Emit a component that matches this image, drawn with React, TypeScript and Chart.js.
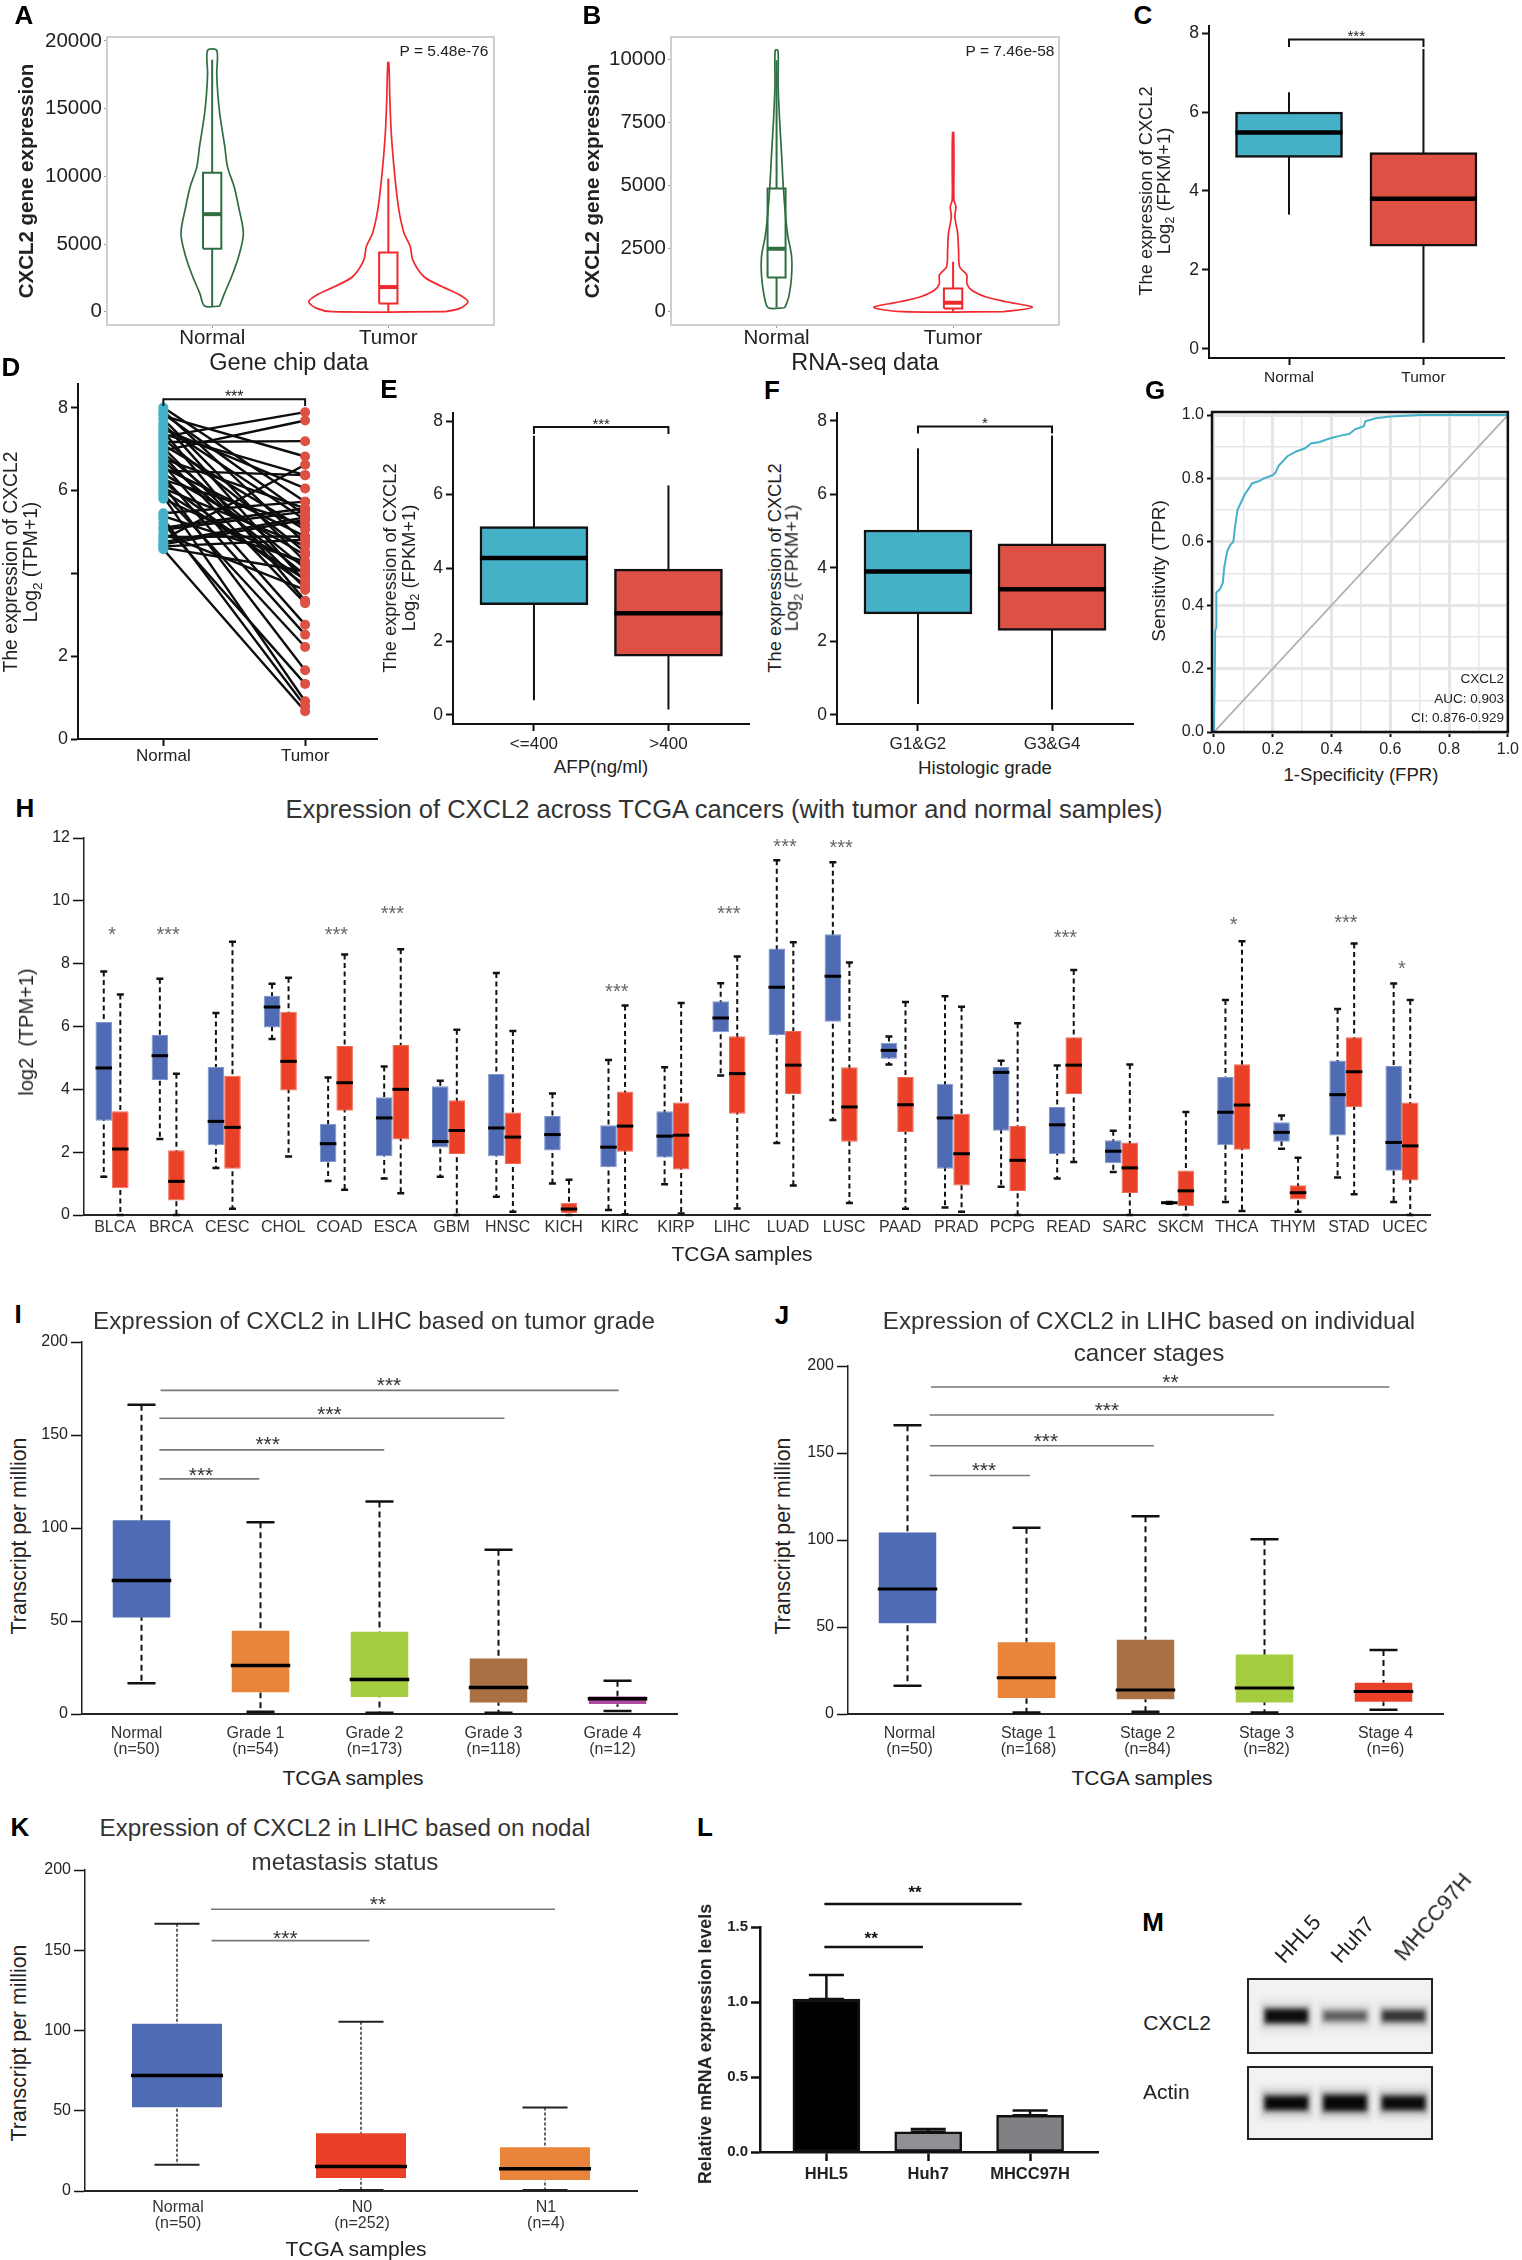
import { useEffect, useRef } from 'react'
import { Chart, registerables } from 'chart.js'

Chart.register(...registerables)

const FONT = '"Liberation Sans", Arial, Helvetica, sans-serif'
Chart.defaults.font.family = FONT

const TEAL = '#45B1C9'
const RED = '#DD5145'
const BLUE = '#4E6BB4'
const ORANGE = '#E8853A'
const GREEN = '#A5CB40'
const BROWN = '#A97043'
const MAGENTA = '#B14BA0'
const VERMILION = '#EA4027'
const V_GREEN = '#2F6E42'
const V_RED = '#F1282E'

// A - gene chip violins
const aTicks = [0, 5000, 10000, 15000, 20000]
const aNormalY = [418, 1353, 2583, 4059, 5781, 7749, 9225, 10700, 12177, 13161, 14637, 16113, 17589, 19311]
const aNormalW = [0.043, 0.07, 0.11, 0.15, 0.177, 0.15, 0.125, 0.087, 0.072, 0.06, 0.043, 0.032, 0.026, 0.026]
const aTumorY = [0, 246, 738, 1230, 1845, 2583, 3813, 4797, 5781, 7011, 8241, 10701, 13161, 15621, 18400]
const aTumorW = [0.32, 0.406, 0.452, 0.406, 0.307, 0.203, 0.139, 0.125, 0.09, 0.067, 0.052, 0.032, 0.017, 0.009, 0.003]
const aNormalBox = [418, 4650, 7208, 10258, 18620]
const aTumorBox = [0, 615, 1820, 4379, 9840]

// B - RNA-seq violins
const bTicks = [0, 2500, 5000, 7500, 10000]
const bNormalY = [158, 620, 1414, 2205, 3000, 3790, 4980, 6300, 7630, 8940, 10360]
const bNormalW = [0.047, 0.07, 0.085, 0.085, 0.064, 0.051, 0.038, 0.028, 0.017, 0.009, 0.008]
const bTumorY = [0, 172, 396, 594, 859, 1123, 1453, 1783, 2444, 3104, 3765, 4161, 4425, 5746, 7107]
const bTumorW = [0.287, 0.449, 0.3, 0.183, 0.104, 0.078, 0.078, 0.037, 0.031, 0.026, 0.01, 0.016, 0.005, 0.005, 0.003]
const bNormalBox = [172, 1361, 2497, 4888, 9974]
const bTumorBox = [0, 132, 357, 925, 1981]
const violinGroups = ['Normal', 'Tumor']

// C, E, F - two-group boxes
const eightTicks = [0, 2, 4, 6, 8]
const cQ1 = [4.85, 2.6]
const cQ3 = [6.0, 4.97]
const cMed = [5.48, 3.8]
const cLo = [3.4, 0.15]
const cHi = [6.5, 7.6]
const eQ1 = [3.0, 1.6]
const eQ3 = [5.13, 3.97]
const eMed = [4.27, 2.77]
const eLo = [0.4, 0.15]
const eHi = [7.6, 6.25]
const eGroups = ['<=400', '>400']
const fQ1 = [2.75, 2.3]
const fQ3 = [5.03, 4.65]
const fMed = [3.9, 3.42]
const fLo = [0.3, 0.15]
const fHi = [7.25, 7.6]
const fGroups = ['G1&G2', 'G3&G4']

// D - paired samples
const dNormal = [8.0, 7.92, 7.85, 7.8, 7.72, 7.62, 7.55, 7.48, 7.42, 7.36, 7.3, 7.24, 7.17, 7.1, 7.03, 6.96, 6.9, 6.83, 6.76, 6.7, 6.62, 6.55, 6.48, 6.4, 6.33, 6.26, 6.2, 6.12, 6.05, 5.98, 5.92, 5.85, 5.8, 5.45, 5.38, 5.32, 5.2, 5.1, 5.05, 4.95, 4.88, 4.82, 4.75, 4.7, 4.65, 4.62, 4.58]
const dTumor = [5.73, 4.73, 5.41, 6.82, 4.28, 3.8, 5.29, 6.05, 3.34, 6.37, 7.89, 4.52, 7.19, 5.05, 3.64, 7.69, 4.12, 3.28, 5.57, 3.96, 2.76, 4.89, 6.37, 4.44, 2.52, 5.16, 3.72, 1.66, 4.66, 3.86, 2.22, 0.91, 4.2, 5.73, 4.28, 0.79, 1.33, 5.57, 5.49, 3.6, 4.89, 6.62, 5.35, 5.29, 4.81, 4.05, 0.67]

// G - ROC curve
const rocFpr = [0, 0.003, 0.004, 0.008, 0.008, 0.02, 0.03, 0.035, 0.045, 0.055, 0.066, 0.072, 0.08, 0.09, 0.105, 0.12, 0.13, 0.15, 0.17, 0.2, 0.21, 0.22, 0.25, 0.28, 0.31, 0.33, 0.36, 0.39, 0.43, 0.46, 0.48, 0.51, 0.515, 0.55, 0.6, 0.7, 1]
const rocTpr = [0, 0.2, 0.32, 0.33, 0.44, 0.45, 0.47, 0.52, 0.57, 0.59, 0.6, 0.65, 0.7, 0.72, 0.75, 0.77, 0.785, 0.79, 0.8, 0.81, 0.82, 0.84, 0.87, 0.885, 0.895, 0.91, 0.915, 0.925, 0.935, 0.94, 0.955, 0.965, 0.98, 0.99, 0.995, 1, 1]
const rocTicks = [0, 0.1, 0.2, 0.3, 0.4, 0.5, 0.6, 0.7, 0.8, 0.9, 1]
const rocLegend = ['CXCL2', 'AUC: 0.903', 'CI: 0.876-0.929']

// H - pan-cancer boxes
const hCancers = ['BLCA', 'BRCA', 'CESC', 'CHOL', 'COAD', 'ESCA', 'GBM', 'HNSC', 'KICH', 'KIRC', 'KIRP', 'LIHC', 'LUAD', 'LUSC', 'PAAD', 'PRAD', 'PCPG', 'READ', 'SARC', 'SKCM', 'THCA', 'THYM', 'STAD', 'UCEC']
const hTicks = [0, 2, 4, 6, 8, 10, 12]
const hBlueHi = [7.75, 7.52, 6.43, 7.36, 4.38, 4.73, 4.27, 7.7, 3.87, 4.93, 4.7, 7.38, 11.29, 11.23, 5.68, 6.96, 4.91, 4.76, 2.68, 0.41, 6.84, 3.17, 6.56, 7.37]
const hBlueQ3 = [6.14, 5.73, 4.71, 6.97, 2.9, 3.75, 4.1, 4.49, 3.15, 2.86, 3.3, 6.8, 8.48, 8.94, 5.48, 4.18, 4.71, 3.44, 2.38, 0.41, 4.39, 2.95, 4.92, 4.74]
const hBlueMed = [4.68, 5.07, 2.98, 6.62, 2.27, 3.09, 2.34, 2.77, 2.56, 2.16, 2.51, 6.27, 7.25, 7.6, 5.24, 3.09, 4.54, 2.87, 2.03, 0.39, 3.27, 2.63, 3.83, 2.31]
const hBlueQ1 = [3.0, 4.3, 2.22, 5.97, 1.69, 1.87, 2.15, 1.87, 2.05, 1.52, 1.83, 5.82, 5.73, 6.15, 4.97, 1.47, 2.68, 1.93, 1.65, 0.36, 2.22, 2.33, 2.53, 1.41]
const hBlueLo = [1.22, 2.42, 1.5, 5.6, 1.08, 1.16, 1.22, 0.58, 1.0, 0.16, 0.98, 4.44, 2.29, 3.02, 4.79, 0.24, 0.9, 1.16, 1.37, 0.36, 0.41, 2.11, 1.19, 0.41]
const hRedHi = [7.02, 4.5, 8.7, 7.55, 8.29, 8.46, 5.9, 5.86, 1.12, 6.67, 6.75, 8.23, 8.68, 8.04, 6.78, 6.63, 6.1, 7.8, 4.79, 3.28, 8.71, 1.82, 8.64, 6.84]
const hRedQ3 = [3.3, 2.06, 4.43, 6.47, 5.38, 5.41, 3.65, 3.26, 0.39, 3.93, 3.58, 5.69, 5.86, 4.7, 4.39, 3.22, 2.83, 5.66, 2.31, 1.42, 4.8, 0.95, 5.66, 3.58]
const hRedMed = [2.1, 1.07, 2.79, 4.89, 4.21, 4.0, 2.69, 2.48, 0.19, 2.83, 2.54, 4.5, 4.77, 3.44, 3.51, 1.95, 1.74, 4.77, 1.5, 0.77, 3.5, 0.71, 4.56, 2.2]
const hRedQ1 = [0.85, 0.46, 1.47, 3.96, 3.32, 2.4, 1.94, 1.62, 0.06, 2.01, 1.45, 3.22, 3.85, 2.33, 2.64, 0.94, 0.76, 3.85, 0.7, 0.28, 2.08, 0.49, 3.43, 1.1]
const hRedLo = [0, 0, 0.2, 1.86, 0.8, 0.69, 0, 0.1, 0, 0.02, 0.05, 0.21, 0.94, 0.38, 0.2, 0.1, 0, 1.69, 0, 0, 0.13, 0.1, 0.66, 0]
const hStarCancers = [0, 1, 4, 5, 9, 11, 12, 13, 17, 20, 22, 23]
const hStarValues = [9.04, 9.04, 9.04, 9.71, 7.22, 9.71, 11.83, 11.8, 8.95, 9.36, 9.43, 7.97]
const hStarTexts = ['*', '***', '***', '***', '***', '***', '***', '***', '***', '*', '***', '*']

// I, J, K - LIHC boxes
const tpmTicks = [0, 50, 100, 150, 200]
const iLabels = [['Normal', '(n=50)'], ['Grade 1', '(n=54)'], ['Grade 2', '(n=173)'], ['Grade 3', '(n=118)'], ['Grade 4', '(n=12)']]
const iHi = [166.3, 103.1, 114.2, 88.3, 17.9]
const iQ3 = [104.7, 45.3, 44.8, 30.4, 10]
const iMed = [71.8, 26.1, 18.6, 14.3, 8.2]
const iQ1 = [51.4, 11.1, 8.6, 5.7, 4.8]
const iLo = [16.5, 1.2, 0.7, 0.7, 1.6]
const jLabels = [['Normal', '(n=50)'], ['Stage 1', '(n=168)'], ['Stage 2', '(n=84)'], ['Stage 3', '(n=82)'], ['Stage 4', '(n=6)']]
const jHi = [166, 107, 113.7, 100.5, 36.8]
const jQ3 = [104.9, 41.8, 43.3, 34.7, 18.6]
const jMed = [71.9, 20.9, 13.8, 15, 13]
const jQ1 = [51.6, 8.6, 7.9, 6.1, 6.5]
const jLo = [16.3, 0.8, 1.3, 0.8, 2.5]
const kLabels = [['Normal', '(n=50)'], ['N0', '(n=252)'], ['N1', '(n=4)']]
const kHi = [166.5, 105.4, 52]
const kQ3 = [104.8, 36.6, 27.9]
const kMed = [71.9, 15.2, 13.9]
const kQ1 = [51.6, 7.5, 6.2]
const kLo = [16.4, 0.6, 0.6]

// L - qPCR bars
const lCells = ['HHL5', 'Huh7', 'MHCC97H']
const lValues = [1.02, 0.135, 0.245]
const lErrorTop = [1.18, 0.153, 0.276]
const lTicks = [0, 0.5, 1, 1.5]

// M - blot band strength
const mCells = ['HHL5', 'Huh7', 'MHCC97H']
const mCxcl2Thick = [14, 9, 11]
const mCxcl2Shade = ['#0c0c0c', '#5c5c5c', '#333333']
const mActinThick = [14, 16, 14]
const mActinShade = ['#070707', '#070707', '#0a0a0a']

const indexes = (arr: unknown[]) => arr.map((_, i) => i)

// draws whiskers, medians, significance bars and stars through the chart's scales
function marks(extra: any = {}) {
  return {
    id: 'marks',
    beforeDatasetsDraw(chart: any) {
      const { ctx, scales } = chart
      chart.data.datasets.forEach((ds: any, d: number) => {
        if (!ds.box) return
        const st = ds.box
        chart.getDatasetMeta(d).data.forEach((el: any, i: number) => {
          ctx.save()
          ctx.strokeStyle = st.color || '#000'
          ctx.lineWidth = st.width || 2
          ctx.setLineDash(st.dash || [])
          ctx.beginPath()
          ctx.moveTo(el.x, scales.y.getPixelForValue(st.hi[i]))
          ctx.lineTo(el.x, scales.y.getPixelForValue(st.lo[i]))
          ctx.stroke()
          ctx.setLineDash([])
          if (st.cap) {
            ctx.lineWidth = st.capWidth || 2
            ctx.beginPath()
            for (const v of [st.hi[i], st.lo[i]]) {
              ctx.moveTo(el.x - st.cap / 2, scales.y.getPixelForValue(v))
              ctx.lineTo(el.x + st.cap / 2, scales.y.getPixelForValue(v))
            }
            ctx.stroke()
          }
          ctx.restore()
        })
      })
    },
    afterDatasetsDraw(chart: any) {
      const { ctx, scales } = chart
      chart.data.datasets.forEach((ds: any, d: number) => {
        if (!ds.box || !ds.box.med) return
        chart.getDatasetMeta(d).data.forEach((el: any, i: number) => {
          const y = scales.y.getPixelForValue(ds.box.med[i])
          const half = ds.box.medHalf ?? el.width / 2
          ctx.save()
          ctx.strokeStyle = '#000'
          ctx.lineWidth = ds.box.medWidth || 4
          ctx.beginPath()
          ctx.moveTo(el.x - half, y)
          ctx.lineTo(el.x + half, y)
          ctx.stroke()
          ctx.restore()
        })
      })
    },
    afterDraw(chart: any) {
      const { ctx, scales, chartArea } = chart
      if (extra.frame) {
        ctx.save()
        ctx.strokeStyle = extra.frame.color
        ctx.lineWidth = extra.frame.width
        ctx.strokeRect(chartArea.left, chartArea.top, chartArea.right - chartArea.left, chartArea.bottom - chartArea.top)
        ctx.restore()
      }
      for (const s of extra.sig || []) {
        const x0 = scales.x.getPixelForValue(s.x0)
        const x1 = scales.x.getPixelForValue(s.x1)
        const y = scales.y.getPixelForValue(s.y)
        ctx.save()
        ctx.strokeStyle = s.color || '#666'
        ctx.lineWidth = s.width || 1.5
        ctx.beginPath()
        if (s.drop !== undefined) {
          const yd = scales.y.getPixelForValue(s.drop)
          ctx.moveTo(x0, yd)
          ctx.lineTo(x0, y)
          ctx.lineTo(x1, y)
          ctx.lineTo(x1, yd)
        } else {
          ctx.moveTo(x0, y)
          ctx.lineTo(x1, y)
        }
        ctx.stroke()
        ctx.restore()
      }
      for (const s of extra.stars || []) {
        const size = s.size || 16
        ctx.save()
        ctx.fillStyle = s.color || '#222'
        ctx.font = `${s.bold ? 'bold ' : ''}${size}px ${FONT}`
        ctx.textAlign = 'center'
        ctx.textBaseline = 'middle'
        ctx.fillText(s.text, scales.x.getPixelForValue(s.x), scales.y.getPixelForValue(s.y) + size * 0.22)
        ctx.restore()
      }
    },
  }
}

function yScale(p: any, ticks: number[], min: number, max: number, o: any = {}) {
  return {
    type: 'linear',
    min,
    max,
    afterFit: (s: any) => { s.width = p.pl },
    afterBuildTicks: (s: any) => { s.ticks = ticks.map((value) => ({ value })) },
    border: { color: o.line || '#111', width: o.lineWidth ?? 2, display: o.noBorder ? false : true },
    grid: {
      drawOnChartArea: false,
      drawTicks: true,
      tickLength: o.tick ?? 7,
      tickColor: o.tickColor || '#111',
      tickWidth: o.tickWidth ?? 2,
    },
    ticks: {
      font: { size: o.size ?? 17.5, weight: o.weight || 'normal' },
      color: '#222',
      padding: o.pad ?? 3,
      autoSkip: false,
      callback: o.format || ((v: number) => String(v)),
    },
  }
}

function xLinear(p: any, names: string[], min: number, max: number, o: any = {}) {
  const first = o.first ?? 0
  return {
    type: 'linear',
    min,
    max,
    offset: false,
    afterFit: (s: any) => { s.height = p.pb },
    afterBuildTicks: (s: any) => { s.ticks = indexes(names).map((i) => ({ value: first + i })) },
    border: { color: o.line || '#111', width: o.lineWidth ?? 2, display: o.noBorder ? false : true },
    grid: {
      offset: false,
      drawOnChartArea: false,
      drawTicks: true,
      tickLength: o.tick ?? 7,
      tickColor: o.tickColor || '#111',
      tickWidth: o.tickWidth ?? 2,
    },
    ticks: {
      font: { size: o.size ?? 16, weight: o.weight || 'normal' },
      color: '#222',
      padding: o.xPad ?? o.pad ?? 3,
      autoSkip: false,
      maxRotation: 0,
      minRotation: 0,
      callback: (v: number) => names[v - first],
    },
  }
}

function xCategory(p: any, o: any = {}) {
  return {
    type: 'category',
    afterFit: (s: any) => { s.height = p.pb },
    border: { color: '#222', width: 2 },
    grid: { display: false, drawTicks: false },
    ticks: {
      font: { size: o.size ?? 16, lineHeight: 1.04 },
      color: '#333',
      padding: o.pad ?? 4,
      labelOffset: o.shift ?? 0,
      autoSkip: false,
      maxRotation: 0,
      minRotation: 0,
    },
  }
}

function options(p: any, x: any, y: any) {
  return {
    responsive: false,
    maintainAspectRatio: false,
    animation: false,
    layout: { padding: { top: p.pt, right: p.pr, left: 0, bottom: 0 } },
    plugins: { legend: { display: false }, tooltip: { enabled: false }, title: { display: false } },
    scales: { x, y },
  }
}

function ChartBox({ p, config, }: { p: any; config: () => any }) {
  const canvasRef = useRef<HTMLCanvasElement>(null)
  const w = p.r - p.l + p.pl + p.pr
  const h = p.b - p.t + p.pt + p.pb

  useEffect(() => {
    if (!canvasRef.current) return
    const chart = new Chart(canvasRef.current, config())
    return () => chart.destroy()
  }, [])

  return (
    <canvas
      ref={canvasRef}
      width={w}
      height={h}
      style={{ position: 'absolute', left: p.l - p.pl, top: p.t - p.pt, width: w, height: h }}
    />
  )
}

function Txt({ x, y, size, bold, rot = 0, align = 'center', color = '#222', children }: any) {
  const shift = align === 'center' ? '-50%' : align === 'right' ? '-100%' : '0'
  return (
    <div
      style={{
        position: 'absolute',
        left: x,
        top: y,
        fontFamily: FONT,
        fontSize: size,
        fontWeight: bold ? 'bold' : 'normal',
        color,
        lineHeight: 1,
        whiteSpace: 'pre',
        transform: `translate(${shift},-50%) rotate(${rot}deg)`,
      }}
    >
      {children}
    </div>
  )
}

const Letter = ({ x, y, children }: any) => <Txt x={x} y={y} size={26} bold color="#000">{children}</Txt>

function Log2Title({ x1, x2, y, size, unit }: any) {
  return (
    <>
      <Txt x={x1} y={y} size={size} rot={-90}>The expression of CXCL2</Txt>
      <Txt x={x2} y={y} size={size} rot={-90}>Log<sub style={{ fontSize: size * 0.7 }}>2</sub> ({unit}+1)</Txt>
    </>
  )
}

function violinSets(center: number, ys: number[], ws: number[], box: number[], color: string, boxHalf: number) {
  const right = ys.map((y, i) => ({ x: center + ws[i], y }))
  const left = ys.map((y, i) => ({ x: center - ws[i], y })).reverse()
  const [lo, q1, med, q3, hi] = box
  const line = { showLine: true, pointRadius: 0, borderColor: color }
  return [
    { ...line, borderWidth: 4, data: [{ x: center - boxHalf, y: med }, { x: center + boxHalf, y: med }] },
    { ...line, borderWidth: 2, data: [{ x: center - boxHalf, y: q1 }, { x: center + boxHalf, y: q1 }, { x: center + boxHalf, y: q3 }, { x: center - boxHalf, y: q3 }, { x: center - boxHalf, y: q1 }] },
    { ...line, borderWidth: 2, data: [{ x: center, y: lo }, { x: center, y: q1 }] },
    { ...line, borderWidth: 2, data: [{ x: center, y: q3 }, { x: center, y: hi }] },
    { ...line, borderWidth: 1.7, tension: 0.3, data: [...right, ...left, right[0]] },
  ]
}

function violinConfig(p: any, ticks: number[], min: number, max: number, xMin: number, xMax: number, sets: any[]) {
  const axisOpts = { noBorder: true, tick: 3, tickColor: '#999', tickWidth: 1, size: 20.5, pad: 2 }
  return {
    type: 'scatter',
    data: { datasets: sets },
    options: options(p, xLinear(p, violinGroups, xMin, xMax, { ...axisOpts, first: 1, xPad: -2 }), yScale(p, ticks, min, max, axisOpts)),
    plugins: [marks({ frame: { color: '#cfcfcf', width: 2 } })],
  }
}

// two-group box panels, the x scale is linear so the axis can run past the boxes
function twoBox(p: any, names: string[], xMin: number, xMax: number, yMin: number, yMax: number, d: any, sig: any, star: any, thickness: number) {
  return {
    type: 'bar',
    data: {
      datasets: [{
        data: d.q1.map((v: number, i: number) => ({ x: i, y: [v, d.q3[i]] })),
        backgroundColor: [TEAL, RED],
        borderColor: '#111',
        borderWidth: 2.5,
        borderSkipped: false,
        barThickness: thickness,
        box: { hi: d.hi, lo: d.lo, med: d.med, width: 2, medWidth: 4.5, color: '#111' },
      }],
    },
    options: options(p, xLinear(p, names, xMin, xMax, { size: p.xSize ?? 16 }), yScale(p, eightTicks, yMin, yMax)),
    plugins: [marks({ sig: [sig], stars: [star] })],
  }
}

const pA = { l: 107, t: 37, r: 494, b: 325, pl: 100, pt: 15, pr: 10, pb: 30 }
const pB = { l: 671, t: 37, r: 1059, b: 325, pl: 85, pt: 15, pr: 10, pb: 30 }
const pC = { l: 1209, t: 26, r: 1504, b: 358, pl: 45, pt: 14, pr: 10, pb: 34, xSize: 15.5 }
const pD = { l: 78, t: 384, r: 377, b: 739, pl: 45, pt: 14, pr: 10, pb: 30 }
const pE = { l: 453, t: 413, r: 749, b: 724, pl: 35, pt: 14, pr: 10, pb: 30, xSize: 17 }
const pF = { l: 837, t: 413, r: 1133, b: 724, pl: 35, pt: 14, pr: 10, pb: 30, xSize: 17 }
const pG = { l: 1212, t: 412, r: 1511, b: 732, pl: 40, pt: 14, pr: 11, pb: 30 }
const pH = { l: 84, t: 838, r: 1430, b: 1215, pl: 50, pt: 14, pr: 10, pb: 30 }
const pI = { l: 82, t: 1342, r: 677, b: 1714, pl: 50, pt: 14, pr: 10, pb: 50 }
const pJ = { l: 848, t: 1366, r: 1443, b: 1714, pl: 50, pt: 14, pr: 10, pb: 50 }
const pK = { l: 85, t: 1870, r: 637, b: 2191, pl: 50, pt: 14, pr: 10, pb: 46 }
const pL = { l: 760, t: 1927, r: 1098, b: 2152, pl: 45, pt: 50, pr: 6, pb: 34 }

const configC = () => twoBox(pC, violinGroups, -0.595, 1.599, -0.235, 8.18,
  { q1: cQ1, q3: cQ3, med: cMed, lo: cLo, hi: cHi },
  { x0: 0, x1: 1, y: 7.84, drop: 7.65, color: '#111', width: 2 },
  { x: 0.5, y: 8.0, text: '***', size: 15 }, 107)

const configE = () => twoBox(pE, eGroups, -0.602, 1.599, -0.245, 8.22,
  { q1: eQ1, q3: eQ3, med: eMed, lo: eLo, hi: eHi },
  { x0: 0, x1: 1, y: 7.84, drop: 7.65, color: '#111', width: 2 },
  { x: 0.5, y: 8.0, text: '***', size: 15 }, 108)

const configF = () => twoBox(pF, fGroups, -0.604, 1.604, -0.245, 8.21,
  { q1: fQ1, q3: fQ3, med: fMed, lo: fLo, hi: fHi },
  { x0: 0, x1: 1, y: 7.84, drop: 7.65, color: '#111', width: 2 },
  { x: 0.5, y: 8.0, text: '*', size: 15 }, 108)

function configD() {
  const lines = dNormal.map((n, i) => ({
    showLine: true,
    pointRadius: 0,
    borderColor: '#0c0c0c',
    borderWidth: 2.4,
    order: 1,
    data: [{ x: 0, y: n }, { x: 1, y: dTumor[i] }],
  }))
  const dots = [
    { order: 0, pointRadius: 5, pointBackgroundColor: TEAL, pointBorderWidth: 0, data: dNormal.map((y) => ({ x: 0, y })) },
    { order: 0, pointRadius: 5, pointBackgroundColor: RED, pointBorderWidth: 0, data: dTumor.map((y) => ({ x: 1, y })) },
  ]
  return {
    type: 'scatter',
    data: { datasets: [...dots, ...lines] },
    options: options(
      pD,
      xLinear(pD, violinGroups, -0.602, 1.507, { size: 17, pad: 0 }),
      yScale(pD, eightTicks, 0, 8.57, { size: 18, format: (v: number) => (v === 4 ? '' : String(v)) }),
    ),
    plugins: [marks({
      sig: [{ x0: 0, x1: 1, y: 8.2, drop: 8.04, color: '#111', width: 2 }],
      stars: [{ x: 0.5, y: 8.33, text: '***', size: 16 }],
    })],
  }
}

function configG() {
  const isMajor = (v: number) => Math.round(v * 10) % 2 === 0
  const gridLine = (ctx: any) => (ctx.tick && isMajor(ctx.tick.value) ? 3 : 1.5)
  const tickColor = (ctx: any) => (ctx.tick && isMajor(ctx.tick.value) ? '#111' : 'transparent')
  const label = (v: number) => (isMajor(v) ? v.toFixed(1) : '')
  const axis = (extra: any) => ({
    type: 'linear',
    ...extra,
    afterBuildTicks: (s: any) => { s.ticks = rocTicks.map((value) => ({ value })) },
    border: { display: false },
    grid: { color: '#e6e6e6', lineWidth: gridLine, tickColor, tickWidth: 2, tickLength: 5, drawTicks: true },
    ticks: { font: { size: 16 }, color: '#222', padding: 3, autoSkip: false, maxRotation: 0, minRotation: 0, callback: label },
  })
  return {
    type: 'scatter',
    data: {
      datasets: [
        { showLine: true, pointRadius: 0, borderColor: TEAL, borderWidth: 2, data: rocFpr.map((x, i) => ({ x, y: rocTpr[i] })) },
        { showLine: true, pointRadius: 0, borderColor: '#b0b0b0', borderWidth: 1.8, data: [{ x: 0, y: 0 }, { x: 1, y: 1 }] },
      ],
    },
    options: options(
      pG,
      axis({ min: -0.0067, max: 1, afterFit: (s: any) => { s.height = pG.pb } }),
      axis({ min: 0, max: 1.0095, afterFit: (s: any) => { s.width = pG.pl } }),
    ),
    plugins: [marks({ frame: { color: '#111', width: 2.5 } })],
  }
}

function configH() {
  const style = { width: 2, dash: [5, 3.5], cap: 7, capWidth: 2.5, medWidth: 3, color: '#111' }
  const set = (q1: number[], q3: number[], med: number[], lo: number[], hi: number[], color: string, line: string) => ({
    data: q1.map((v, i) => [v, q3[i]]),
    backgroundColor: color,
    borderColor: line,
    borderWidth: 1,
    borderSkipped: false,
    categoryPercentage: 0.59,
    barPercentage: 1,
    box: { ...style, med, lo, hi },
  })
  return {
    type: 'bar',
    data: {
      labels: hCancers,
      datasets: [
        set(hBlueQ1, hBlueQ3, hBlueMed, hBlueLo, hBlueHi, BLUE, '#7f95cb'),
        set(hRedQ1, hRedQ3, hRedMed, hRedLo, hRedHi, VERMILION, '#ef6a55'),
      ],
    },
    options: options(pH, xCategory(pH, { shift: 3 }), yScale(pH, hTicks, 0, 12, { size: 16, tick: 11, tickWidth: 1.5, line: '#222', lineWidth: 1.5 })),
    plugins: [marks({
      stars: hStarCancers.map((x, i) => ({ x, y: hStarValues[i], text: hStarTexts[i], size: 20, color: '#666' })),
    })],
  }
}

function lihcConfig(p: any, labels: any[], q1: number[], q3: number[], med: number[], lo: number[], hi: number[], colors: string[], whisk: any, sig: any[], stars: any[]) {
  return {
    type: 'bar',
    data: {
      labels,
      datasets: [{
        data: q1.map((v, i) => [v, q3[i]]),
        backgroundColor: colors,
        borderColor: 'rgba(255,255,255,0.35)',
        borderWidth: 1,
        borderSkipped: false,
        categoryPercentage: 1,
        barPercentage: 0.5,
        box: { ...whisk, med, lo, hi },
      }],
    },
    options: options(p, xCategory(p, { pad: whisk.labelPad, shift: whisk.labelShift }), yScale(p, tpmTicks, 0, 200, { size: 16, tick: 11, tickWidth: 1.5, line: '#222', lineWidth: 1.5 })),
    plugins: [marks({ sig, stars })],
  }
}

const sigRow = (x0: number, x1: number, y: number) => ({ x0, x1, y, color: '#777', width: 1.6 })
const starRow = (x: number, y: number, text: string) => ({ x, y, text, size: 21, color: '#333' })

const configI = () => lihcConfig(pI, iLabels, iQ1, iQ3, iMed, iLo, iHi, [BLUE, ORANGE, GREEN, BROWN, MAGENTA],
  { width: 2, dash: [6, 4], cap: 28, capWidth: 2.5, medWidth: 3.5, color: '#111', labelPad: 11, labelShift: -5 },
  [sigRow(0.16, 4.01, 174), sigRow(0.15, 3.05, 159), sigRow(0.15, 2.04, 142), sigRow(0.15, 0.99, 126.4)],
  [starRow(2.08, 178.7, '***'), starRow(1.58, 162.9, '***'), starRow(1.06, 146.8, '***'), starRow(0.5, 130.5, '***')])

const configJ = () => lihcConfig(pJ, jLabels, jQ1, jQ3, jMed, jLo, jHi, [BLUE, ORANGE, BROWN, GREEN, VERMILION],
  { width: 2, dash: [6, 4], cap: 28, capWidth: 2.5, medWidth: 3, color: '#111', labelPad: 11, labelShift: 2 },
  [sigRow(0.197, 4.05, 187.9), sigRow(0.186, 3.08, 171.8), sigRow(0.188, 2.07, 154.2), sigRow(0.186, 1.03, 137.1)],
  [starRow(2.21, 193, '**'), starRow(1.676, 176.8, '***'), starRow(1.163, 158.6, '***'), starRow(0.642, 142, '***')])

const configK = () => lihcConfig(pK, kLabels, kQ1, kQ3, kMed, kLo, kHi, [BLUE, VERMILION, ORANGE],
  { width: 1.4, dash: [3, 2], cap: 45, capWidth: 2, medWidth: 3.5, color: '#222', labelPad: 8, labelShift: 1 },
  [sigRow(0.185, 2.054, 175.5), sigRow(0.188, 1.046, 156)],
  [starRow(1.092, 180.7, '**'), starRow(0.589, 160, '***')])

function configL() {
  const common = { line: '#111', lineWidth: 2.5, tickWidth: 2.5, tick: 9, weight: 'bold' }
  return {
    type: 'bar',
    data: {
      datasets: [{
        data: lValues.map((y, x) => ({ x, y })),
        backgroundColor: ['#000000', '#8E9096', '#808185'],
        borderColor: '#111',
        borderWidth: 2.5,
        borderSkipped: false,
        barThickness: 67,
        box: { hi: lErrorTop, lo: lValues, cap: 35, capWidth: 2.5, width: 2.5, color: '#111' },
      }],
    },
    options: options(
      pL,
      xLinear(pL, lCells, -0.652, 2.667, { ...common, size: 16.5, pad: 4 }),
      yScale(pL, lTicks, 0, 1.5, { ...common, size: 15, format: (v: number) => v.toFixed(1) }),
    ),
    plugins: [marks({
      sig: [
        { x0: -0.02, x1: 1.918, y: 1.653, color: '#111', width: 2.5 },
        { x0: -0.02, x1: 0.948, y: 1.367, color: '#111', width: 2.5 },
      ],
      stars: [
        { x: 0.87, y: 1.751, text: '**', size: 17, bold: true, color: '#111' },
        { x: 0.44, y: 1.442, text: '**', size: 17, bold: true, color: '#111' },
      ],
    })],
  }
}

function blotConfig(thick: number[], shades: string[], halo: string, glow: string) {
  const band = (t: number) => [38 - t / 2, 38 + t / 2]
  const layer = (extra: number, color: any, share: number) => ({
    data: thick.map((t) => band(t + extra)),
    backgroundColor: color,
    grouped: false,
    categoryPercentage: 1,
    barPercentage: share,
  })
  return {
    type: 'bar',
    data: { labels: mCells, datasets: [layer(0, shades, 0.74), layer(7, halo, 0.8), layer(20, glow, 0.92)] },
    options: {
      responsive: false,
      maintainAspectRatio: false,
      animation: false,
      layout: { padding: { left: 10, right: 0, top: 0, bottom: 0 } },
      plugins: { legend: { display: false }, tooltip: { enabled: false } },
      scales: { x: { display: false }, y: { display: false, min: 0, max: 76 } },
    },
  }
}

function Blot({ top, height, config, blur }: any) {
  const canvasRef = useRef<HTMLCanvasElement>(null)
  useEffect(() => {
    if (!canvasRef.current) return
    const chart = new Chart(canvasRef.current, config())
    return () => chart.destroy()
  }, [])
  return (
    <div style={{ position: 'absolute', left: 1247, top, width: 186, height, background: '#f2f2f2', overflow: 'hidden', boxSizing: 'border-box' }}>
      <canvas ref={canvasRef} width={186} height={height} style={{ position: 'absolute', left: 0, top: 0, width: 186, height, filter: `blur(${blur}px)` }} />
      <div style={{ position: 'absolute', inset: 0, border: '2.5px solid #222', boxSizing: 'border-box' }} />
    </div>
  )
}

export default function App() {
  return (
    <div style={{ position: 'absolute', left: 0, top: 0, width: 1522, height: 2260, overflow: 'hidden', background: '#fff' }}>
      <ChartBox p={pA} config={() => violinConfig(pA, aTicks, -981, 20295, 0.403, 2.6, [
        ...violinSets(1, aNormalY, aNormalW, aNormalBox, V_GREEN, 0.052),
        ...violinSets(2, aTumorY, aTumorW, aTumorBox, V_RED, 0.052),
      ])} />
      <ChartBox p={pB} config={() => violinConfig(pB, bTicks, -527, 10895, 0.402, 2.6, [
        ...violinSets(1, bNormalY, bNormalW, bNormalBox, V_GREEN, 0.051),
        ...violinSets(2, bTumorY, bTumorW, bTumorBox, V_RED, 0.052),
      ])} />
      <ChartBox p={pC} config={configC} />
      <ChartBox p={pD} config={configD} />
      <ChartBox p={pE} config={configE} />
      <ChartBox p={pF} config={configF} />
      <ChartBox p={pG} config={configG} />
      <ChartBox p={pH} config={configH} />
      <ChartBox p={pI} config={configI} />
      <ChartBox p={pJ} config={configJ} />
      <ChartBox p={pK} config={configK} />
      <ChartBox p={pL} config={configL} />
      <Blot top={1978} height={76} blur={2.6} config={() => blotConfig(mCxcl2Thick, mCxcl2Shade, '#b8b8b8', '#e4e4e4')} />
      <Blot top={2066} height={74} blur={2.6} config={() => blotConfig(mActinThick, mActinShade, '#a0a0a0', '#dcdcdc')} />

      <Letter x={24} y={15}>A</Letter>
      <Letter x={592} y={15}>B</Letter>
      <Letter x={1143} y={15}>C</Letter>
      <Letter x={11} y={367}>D</Letter>
      <Letter x={389} y={389}>E</Letter>
      <Letter x={772} y={390}>F</Letter>
      <Letter x={1155} y={390}>G</Letter>
      <Letter x={25} y={808}>H</Letter>
      <Letter x={18} y={1314}>I</Letter>
      <Letter x={782} y={1315}>J</Letter>
      <Letter x={20} y={1827}>K</Letter>
      <Letter x={705} y={1827}>L</Letter>
      <Letter x={1153} y={1922}>M</Letter>

      <Txt x={26} y={181} size={20.5} bold rot={-90}>CXCL2 gene expression</Txt>
      <Txt x={592} y={181} size={20.5} bold rot={-90}>CXCL2 gene expression</Txt>
      <Txt x={444} y={51} size={15.5}>P = 5.48e-76</Txt>
      <Txt x={1010} y={51} size={15.5}>P = 7.46e-58</Txt>
      <Txt x={289} y={363} size={23.5}>Gene chip data</Txt>
      <Txt x={865} y={363} size={23.5}>RNA-seq data</Txt>

      <Log2Title x1={1146} x2={1166} y={191} size={18.3} unit="FPKM" />
      <Log2Title x1={11} x2={33} y={562} size={19.3} unit="TPM" />
      <Log2Title x1={390} x2={411} y={568} size={18.3} unit="FPKM" />
      <Log2Title x1={775} x2={794} y={568} size={18.3} unit="FPKM" />

      <Txt x={601} y={767} size={18.7}>AFP(ng/ml)</Txt>
      <Txt x={985} y={768} size={18.7}>Histologic grade</Txt>

      <Txt x={1158} y={571} size={19} rot={-90}>Sensitivity (TPR)</Txt>
      <Txt x={1361} y={775} size={18.6}>1-Specificity (FPR)</Txt>
      {rocLegend.map((t, i) => (
        <Txt key={t} x={1504} y={679 + i * 19.5} size={13.5} align="right">{t}</Txt>
      ))}

      <Txt x={724} y={810} size={25.5} color="#333">Expression of CXCL2 across TCGA cancers (with tumor and normal samples)</Txt>
      <Txt x={26} y={1032} size={20} rot={-90}>log2  (TPM+1)</Txt>
      <Txt x={742} y={1253} size={21}>TCGA samples</Txt>

      <Txt x={374} y={1321} size={24.2} color="#333">Expression of CXCL2 in LIHC based on tumor grade</Txt>
      <Txt x={20} y={1536} size={21.3} rot={-90}>Transcript per million</Txt>
      <Txt x={353} y={1777} size={21}>TCGA samples</Txt>

      <Txt x={1149} y={1321} size={24.2} color="#333">Expression of CXCL2 in LIHC based on individual</Txt>
      <Txt x={1149} y={1353} size={24.2} color="#333">cancer stages</Txt>
      <Txt x={784} y={1536} size={21.3} rot={-90}>Transcript per million</Txt>
      <Txt x={1142} y={1777} size={21}>TCGA samples</Txt>

      <Txt x={345} y={1828} size={24.2} color="#333">Expression of CXCL2 in LIHC based on nodal</Txt>
      <Txt x={345} y={1862} size={24.2} color="#333">metastasis status</Txt>
      <Txt x={20} y={2043} size={21.3} rot={-90}>Transcript per million</Txt>
      <Txt x={356} y={2248} size={21}>TCGA samples</Txt>

      <Txt x={706} y={2044} size={17.8} bold rot={-90}>Relative mRNA expression levels</Txt>

      <Txt x={1298} y={1939} size={22} rot={-48}>HHL5</Txt>
      <Txt x={1353} y={1940} size={22} rot={-48}>Huh7</Txt>
      <Txt x={1433} y={1917} size={22} rot={-50}>MHCC97H</Txt>
      <Txt x={1177} y={2022} size={21}>CXCL2</Txt>
      <Txt x={1143} y={2091} size={21} align="left">Actin</Txt>
    </div>
  )
}
